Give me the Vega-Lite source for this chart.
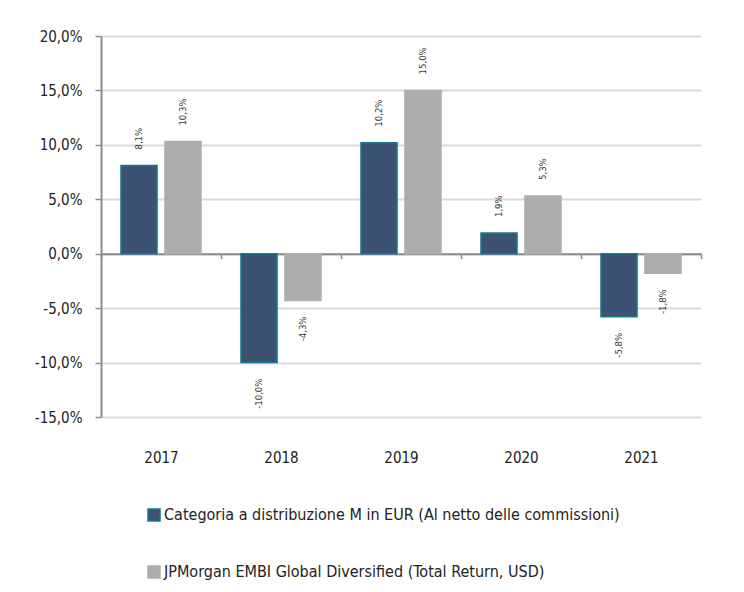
{
  "$schema": "https://vega.github.io/schema/vega-lite/v6.json",
  "autosize": "none",
  "width": 600,
  "height": 381,
  "padding": {"left": 101, "top": 36, "right": 43, "bottom": 175},
  "background": "white",
  "config": {
    "view": {"stroke": null},
    "font": "'Liberation Sans Narrow', 'DejaVu Sans Condensed', 'Open Sans', sans-serif",
    "locale": {"number": {"decimal": ",", "thousands": ".", "grouping": [3], "currency": ["", " €"], "minus": "-"}}
  },
  "data": {"values": [
    {"year": "2017", "series": "Categoria a distribuzione M in EUR (Al netto delle commissioni)", "value": 0.081},
    {"year": "2017", "series": "JPMorgan EMBI Global Diversified (Total Return, USD)", "value": 0.103},
    {"year": "2018", "series": "Categoria a distribuzione M in EUR (Al netto delle commissioni)", "value": -0.100},
    {"year": "2018", "series": "JPMorgan EMBI Global Diversified (Total Return, USD)", "value": -0.043},
    {"year": "2019", "series": "Categoria a distribuzione M in EUR (Al netto delle commissioni)", "value": 0.102},
    {"year": "2019", "series": "JPMorgan EMBI Global Diversified (Total Return, USD)", "value": 0.150},
    {"year": "2020", "series": "Categoria a distribuzione M in EUR (Al netto delle commissioni)", "value": 0.019},
    {"year": "2020", "series": "JPMorgan EMBI Global Diversified (Total Return, USD)", "value": 0.053},
    {"year": "2021", "series": "Categoria a distribuzione M in EUR (Al netto delle commissioni)", "value": -0.058},
    {"year": "2021", "series": "JPMorgan EMBI Global Diversified (Total Return, USD)", "value": -0.018}
  ]},
  "encoding": {
    "x": {
      "field": "year", "type": "nominal", "title": null,
      "scale": {"paddingInner": 0, "paddingOuter": 0},
      "axis": {
        "orient": "bottom", "offset": -163.3, "labelAngle": 0,
        "domainColor": "#8c8c8c", "domainWidth": 2,
        "tickColor": "#8c8c8c", "tickWidth": 1.5, "tickSize": 5, "tickBand": "extent",
        "labelPadding": 192, "labelFontSize": 15, "labelColor": "#222222", "grid": false
      }
    },
    "xOffset": {"field": "series", "type": "nominal", "scale": {"paddingInner": 0.18, "paddingOuter": 0.4545}},
    "y": {
      "field": "value", "type": "quantitative", "title": null,
      "scale": {"domain": [-0.15, 0.20], "nice": false, "zero": false},
      "axis": {
        "values": [-0.15, -0.10, -0.05, 0, 0.05, 0.10, 0.15, 0.20],
        "format": ".1%", "labelFontSize": 15, "labelColor": "#222222", "labelPadding": 13,
        "domainColor": "#8c8c8c", "domainWidth": 2,
        "tickColor": "#8c8c8c", "tickWidth": 1.5, "tickSize": 6,
        "gridColor": "#d9d9d9", "gridWidth": 2
      }
    }
  },
  "layer": [
    {
      "mark": {"type": "bar", "strokeWidth": 1.5},
      "encoding": {
        "color": {
          "field": "series", "type": "nominal", "title": null,
          "scale": {"range": ["#3b5273", "#adadaf"]},
          "legend": {
            "orient": "none", "legendX": 45, "legendY": 471, "direction": "vertical",
            "symbolType": "square", "symbolSize": 144, "symbolStrokeWidth": 1.5,
            "labelFontSize": 16, "labelColor": "#222222", "labelOffset": 2, "rowPadding": 39,
            "labelLimit": 600
          }
        },
        "stroke": {
          "field": "series", "type": "nominal", "title": null,
          "scale": {"range": ["#13798f", "#adadaf"]}
        }
      }
    },
    {
      "transform": [{"filter": "datum.value >= 0"}],
      "mark": {"type": "text", "angle": 270, "align": "left", "baseline": "middle", "dx": 16, "fontSize": 9.5, "color": "#333333"},
      "encoding": {"text": {"field": "value", "type": "quantitative", "format": ".1%"}}
    },
    {
      "transform": [{"filter": "datum.value < 0"}],
      "mark": {"type": "text", "angle": 270, "align": "right", "baseline": "middle", "dx": -16, "fontSize": 9.5, "color": "#333333"},
      "encoding": {"text": {"field": "value", "type": "quantitative", "format": ".1%"}}
    }
  ]
}
